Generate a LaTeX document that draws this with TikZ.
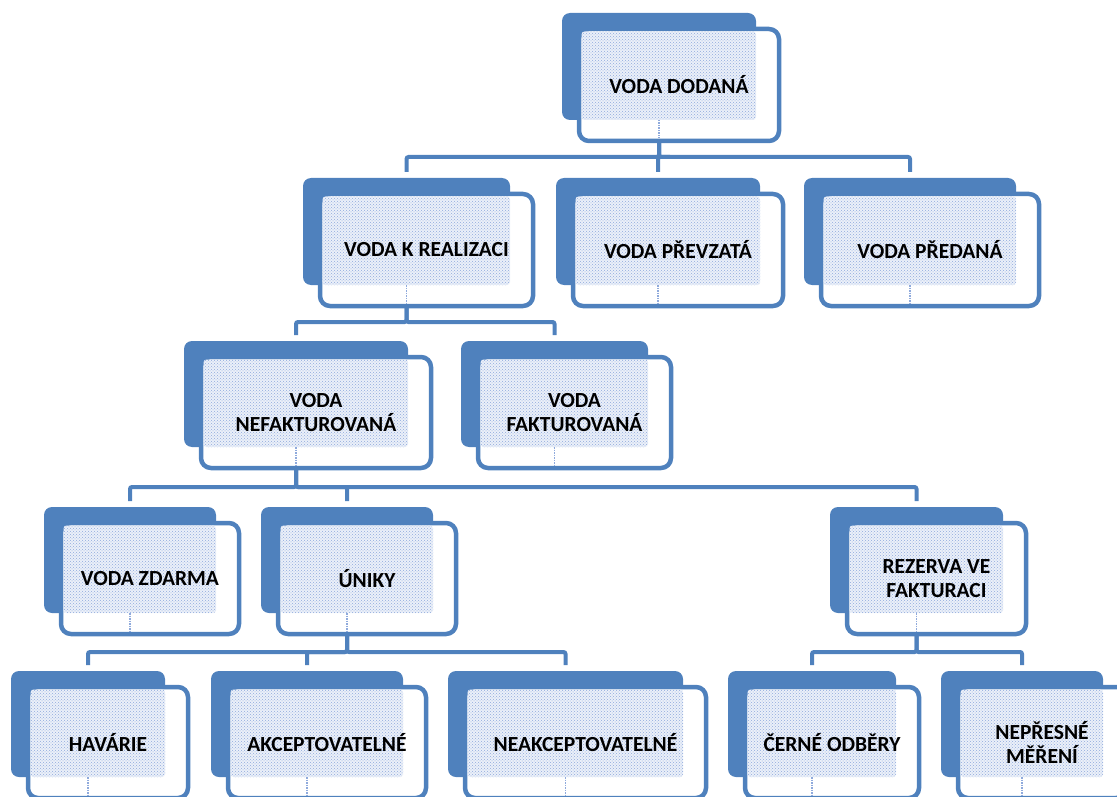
\documentclass[tikz,border=0pt]{standalone}
\usepackage{fontspec}
\setmainfont{Carlito}
\usetikzlibrary{patterns}
\definecolor{accent}{HTML}{4F81BD}
\definecolor{dotc}{HTML}{8FAADC}
\tikzset{
 backbox/.style={rectangle, fill=accent, rounded corners=8pt, inner sep=0pt, outer sep=0pt},
 frontbox/.style={rectangle, draw=accent, fill=white, line width=4.5pt, rounded corners=10pt, inner sep=0pt, outer sep=0pt},
 dotbase/.style={fill=dotc!18, rounded corners=3pt},
 dotarea/.style={pattern=crosshatch dots, pattern color=dotc, rounded corners=3pt},
 lbl/.style={font=\bfseries\fontsize{21.5}{24.5}\selectfont, align=center, text=black, inner sep=0pt},
 conn/.style={draw=accent, line width=4pt, rounded corners=2pt},
}
\newcommand\tnode[6]{%
  \node[backbox, minimum width={#4-#2}, minimum height={#5-#3}] (#1-b) at ({(#2+#4)/2},{(#3+#5)/2}) {};
  \node[frontbox, minimum width={#4-#2+6}, minimum height={#5-#3+5}] (#1-f) at ({(#2+#4)/2+20},{(#3+#5)/2+18.5}) {};
  \fill[dotbase] ([xshift=2.5pt,yshift=-2.5pt]#1-f.north west) rectangle (#1-b.south east);
  \fill[dotarea] ([xshift=2.5pt,yshift=-2.5pt]#1-f.north west) rectangle (#1-b.south east);
  \draw[dotc, densely dotted, line width=1.5pt] (#1-b.south) -- ([yshift=2.5pt]#1-b.south |- #1-f.south);
  \node[lbl] (#1) at (#1-f.center) {#6};
}
\begin{document}
\begin{tikzpicture}[x=1pt,y=-1pt]
\useasboundingbox (0,0) rectangle (1117,797);
\tnode{VD}{562}{13}{756}{120}{VODA DODANÁ}
\tnode{VR}{303}{178}{510}{285}{VODA K REALIZACI}
\tnode{VP}{556}{178}{760}{285}{VODA PŘEVZATÁ}
\tnode{VPD}{804}{178}{1016}{285}{VODA PŘEDANÁ}
\tnode{NF}{184}{341}{408}{447}{VODA\\NEFAKTUROVANÁ}
\tnode{FK}{461}{341}{648}{447}{VODA\\FAKTUROVANÁ}
\tnode{ZD}{44}{507}{216}{613}{VODA ZDARMA}
\tnode{UN}{261}{507}{433}{613}{ÚNIKY}
\tnode{RZ}{830}{507}{1003}{613}{REZERVA VE\\FAKTURACI}
\tnode{HA}{11}{671}{165}{777}{HAVÁRIE}
\tnode{AK}{211}{671}{403}{777}{AKCEPTOVATELNÉ}
\tnode{NA}{448}{671}{683}{777}{NEAKCEPTOVATELNÉ}
\tnode{CO}{728}{671}{896}{777}{ČERNÉ ODBĚRY}
\tnode{NM}{941}{671}{1103}{777}{NEPŘESNÉ\\MĚŘENÍ}
% connectors
\foreach \c in {VR,VP,VPD}
  \draw[conn] (VD-b.south |- VD-f.south) -- (VD-b.south |- 0,157) -| ([yshift=6pt]\c-b.north);
\foreach \c in {NF,FK}
  \draw[conn] (VR-b.south |- VR-f.south) -- (VR-b.south |- 0,322) -| ([yshift=6pt]\c-b.north);
\foreach \c in {ZD,UN,RZ}
  \draw[conn] (NF-b.south |- NF-f.south) -- (NF-b.south |- 0,487) -| ([yshift=6pt]\c-b.north);
\foreach \c in {HA,AK,NA}
  \draw[conn] (UN-b.south |- UN-f.south) -- (UN-b.south |- 0,652) -| ([yshift=6pt]\c-b.north);
\foreach \c in {CO,NM}
  \draw[conn] (RZ-b.south |- RZ-f.south) -- (RZ-b.south |- 0,652) -| ([yshift=6pt]\c-b.north);
\end{tikzpicture}
\end{document}
